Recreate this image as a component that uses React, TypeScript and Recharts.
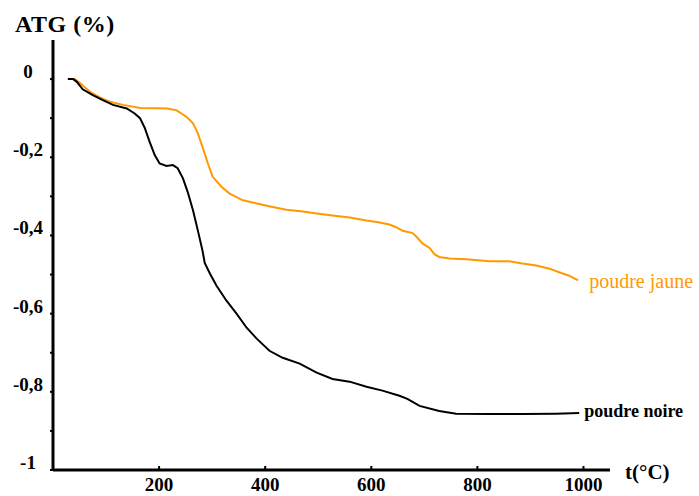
import React from "react";
import { LineChart, Line, XAxis, YAxis, Label } from "recharts";

// poudre jaune (orange curve)
const jauneTemp = [
  28, 41, 51, 70, 88, 107, 132, 164, 216, 233, 252, 264, 273, 282, 292, 301,
  318, 333, 358, 384, 414, 440, 471, 497, 527, 559, 591, 616, 634, 647, 659,
  678, 687, 697, 710, 719, 728, 747, 779, 823, 860, 885, 911, 936, 954, 973, 990,
];
const jauneMass = [
  0, 0, -0.01, -0.033, -0.047, -0.058, -0.066, -0.074, -0.075, -0.08, -0.097,
  -0.113, -0.139, -0.174, -0.216, -0.25, -0.276, -0.293, -0.31, -0.318, -0.327,
  -0.334, -0.339, -0.344, -0.349, -0.354, -0.362, -0.367, -0.372, -0.379,
  -0.388, -0.394, -0.406, -0.421, -0.432, -0.448, -0.455, -0.459, -0.461,
  -0.466, -0.466, -0.472, -0.477, -0.485, -0.494, -0.503, -0.515,
];

// poudre noire (black curve)
const noireTemp = [
  28, 38, 45, 56, 75, 94, 113, 139, 154, 164, 173, 182, 192, 201, 214, 226, 235,
  245, 254, 264, 273, 282, 286, 296, 308, 327, 346, 365, 384, 408, 433, 465,
  497, 527, 559, 591, 621, 653, 668, 691, 728, 760, 823, 885, 948, 992,
];
const noireMass = [
  0, 0, -0.007, -0.026, -0.041, -0.054, -0.066, -0.075, -0.088, -0.1, -0.125,
  -0.16, -0.195, -0.216, -0.222, -0.22, -0.228, -0.254, -0.289, -0.336, -0.387,
  -0.44, -0.47, -0.498, -0.528, -0.567, -0.6, -0.636, -0.664, -0.695, -0.713,
  -0.728, -0.751, -0.767, -0.774, -0.787, -0.797, -0.81, -0.818, -0.836,
  -0.849, -0.856, -0.857, -0.857, -0.856, -0.854,
];

const xTicks = [200, 400, 600, 800, 1000];
const yTicks = [-1, -0.9, -0.8, -0.7, -0.6, -0.5, -0.4, -0.3, -0.2, -0.1, 0];
const yLabelled = [-1, -0.8, -0.6, -0.4, -0.2, 0];

const jauneData = jauneTemp.map((t, i) => ({ t, v: jauneMass[i] }));
const noireData = noireTemp.map((t, i) => ({ t, v: noireMass[i] }));

const FONT = "Liberation Serif, Times New Roman, serif";
const ORANGE = "#ff9900";

const txt = (size: number, weight: string, color = "#000") => ({
  fontFamily: FONT,
  fontSize: size,
  fontWeight: weight as any,
  fill: color,
});

const fmt = (v: number) =>
  Math.abs(v) < 1e-9 ? "0" : String(Math.round(v * 10) / 10).replace(".", ",");

const XTick = ({ x, y, payload }: any) => (
  <g>
    <line x1={x} y1={y} x2={x} y2={y - 4} stroke="#000" strokeWidth={2} />
    <text x={x} y={y + 21} textAnchor="middle" style={txt(19, "bold")}>
      {payload.value}
    </text>
  </g>
);

const YTick = ({ x, y, payload }: any) => {
  const show = yLabelled.some((v) => Math.abs(v - payload.value) < 1e-6);
  return (
    <g>
      <line x1={x - 3} y1={y} x2={x} y2={y} stroke="#000" strokeWidth={2} />
      {show && (
        <text x={x - 25} y={y - 1} textAnchor="middle" style={txt(19, "bold")}>
          {fmt(payload.value)}
        </text>
      )}
    </g>
  );
};

const endLabel = (n: number, text: string, color: string, dx: number, dy: number, size: number, weight: string) =>
  (props: any) => {
    if (props.index !== n - 1) return null;
    return (
      <text x={props.x + dx} y={props.y + dy} style={txt(size, weight, color)}>
        {text}
      </text>
    );
  };

export default function App() {
  return (
    <div style={{ position: "absolute", left: 0, top: 0, background: "#fff" }}>
      <LineChart width={699} height={496} margin={{ top: 40, right: 89, bottom: 0, left: 0 }}>
        <XAxis
          type="number"
          dataKey="t"
          domain={[0, 1050]}
          ticks={xTicks}
          allowDuplicatedCategory={false}
          axisLine={{ stroke: "#000", strokeWidth: 3 }}
          tickLine={false}
          tickSize={0}
          tickMargin={0}
          height={26}
          tick={<XTick />}
        >
          <Label
            content={() => (
              <text x={625} y={479} style={txt(21, "bold")}>
                t(°C)
              </text>
            )}
          />
        </XAxis>
        <YAxis
          type="number"
          dataKey="v"
          domain={[-1, 0.1]}
          ticks={yTicks}
          width={53}
          axisLine={{ stroke: "#000", strokeWidth: 3 }}
          tickLine={false}
          tickSize={0}
          tickMargin={0}
          interval={0}
          tick={<YTick />}
        >
          <Label
            content={() => (
              <text x={15} y={32} letterSpacing={0.5} style={txt(24, "bold")}>
                ATG (%)
              </text>
            )}
          />
        </YAxis>
        <Line
          data={jauneData}
          dataKey="v"
          type="linear"
          stroke={ORANGE}
          strokeWidth={2}
          dot={false}
          isAnimationActive={false}
          label={endLabel(jauneData.length, "poudre jaune", ORANGE, 11, 8, 20, "normal")}
        />
        <Line
          data={noireData}
          dataKey="v"
          type="linear"
          stroke="#000"
          strokeWidth={2}
          dot={false}
          isAnimationActive={false}
          label={endLabel(noireData.length, "poudre noire", "#000", 5, 4, 18, "bold")}
        />
      </LineChart>
    </div>
  );
}
